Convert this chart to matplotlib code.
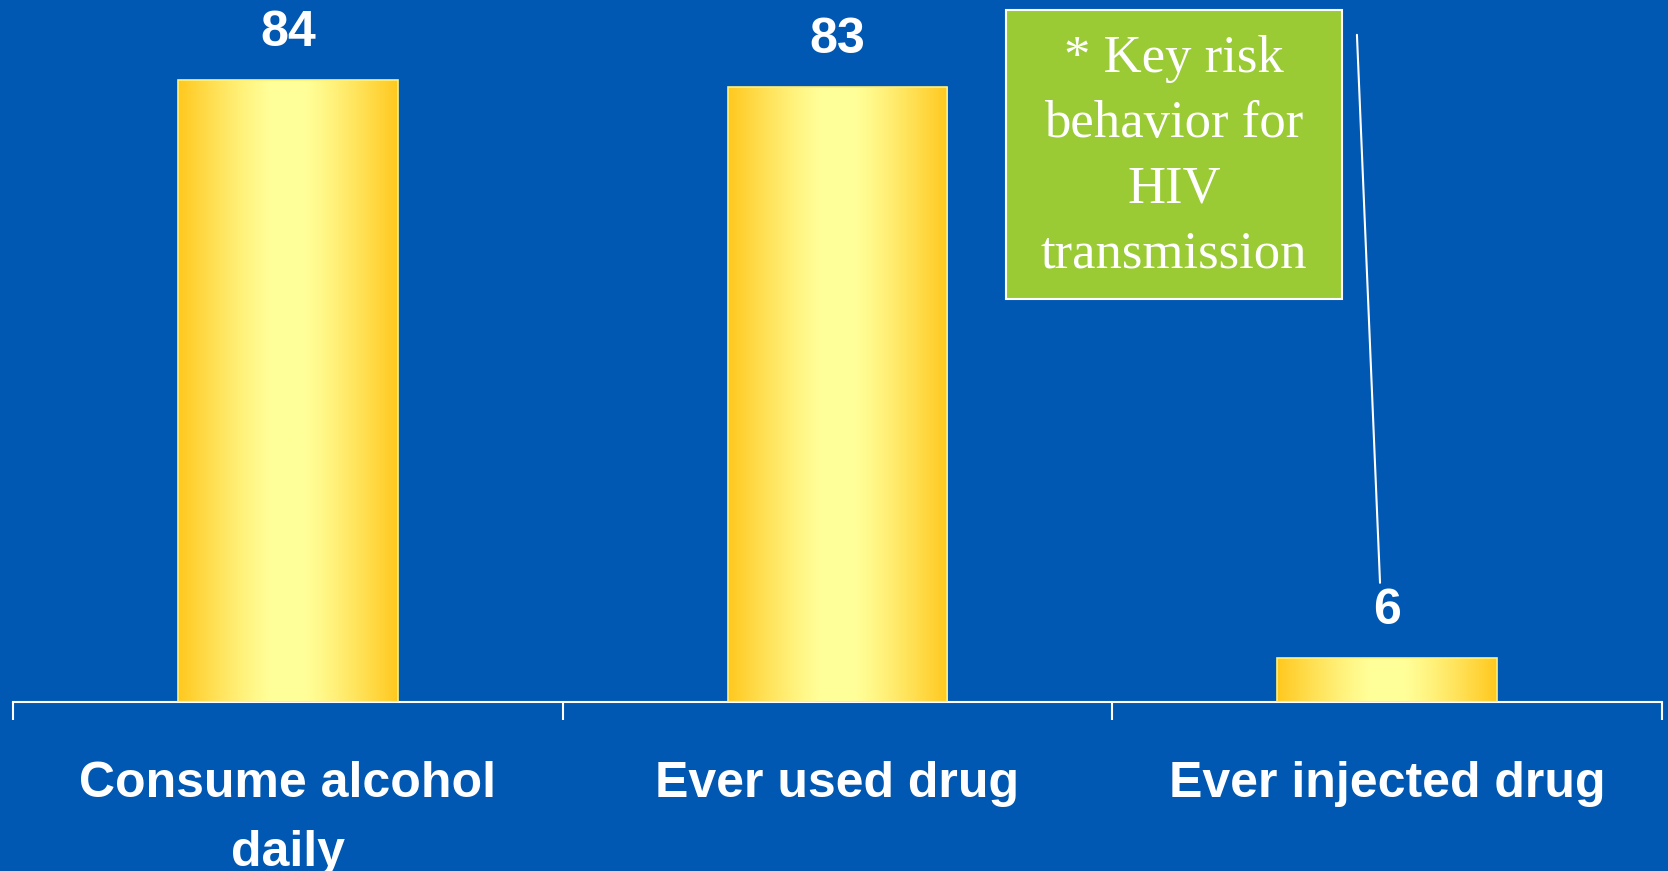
import numpy as np
import matplotlib
matplotlib.use('Agg')
import matplotlib.pyplot as plt
from matplotlib.patches import Rectangle
from matplotlib.colors import to_rgb

# ---- data ----
categories = ["Consume alcohol\ndaily", "Ever used drug", "Ever injected drug"]
values = [84, 83, 6]
value_labels = ["84", "83", "6"]
note_text = "* Key risk\nbehavior for\nHIV\ntransmission"

# ---- style ----
BG = '#0058B2'
GOLD = '#FFC81E'
PALE = '#FFFF99'
GREEN = '#9ACB34'
SANS = 'Liberation Sans'
SERIF = 'Liberation Serif'

W, H, DPI = 1668, 871, 100
fig = plt.figure(figsize=(W / DPI, H / DPI), dpi=DPI, facecolor=BG)
ax = fig.add_axes([13 / W, 1 - 702 / H, (1662 - 13) / W, 702 / H])
ax.set_facecolor(BG)

x = np.arange(len(categories))
bars = ax.bar(x, values, width=0.4, facecolor='none', edgecolor='#FFF07A',
              linewidth=1.2, zorder=3)

# horizontal gradient fill for each bar
u = np.linspace(0, 1, 256)
t = np.clip((np.abs(u - 0.5) * 2 - 0.15) / 0.85, 0, 1) ** 1.2
g = np.array(to_rgb(GOLD))
p = np.array(to_rgb(PALE))
grad = (p[None, :] * (1 - t[:, None]) + g[None, :] * t[:, None])[None, :, :]
for b in bars:
    x0, y0, bw, bh = b.get_x(), b.get_y(), b.get_width(), b.get_height()
    im = ax.imshow(grad, extent=[x0, x0 + bw, y0, y0 + bh], aspect='auto',
                   zorder=2, interpolation='bilinear')
    im.set_clip_path(b)

ax.set_xlim(-0.5, len(categories) - 0.5)
ax.set_ylim(0, 94.8)

# value labels
for b, lbl in zip(bars, value_labels):
    ax.annotate(lbl, (b.get_x() + b.get_width() / 2, b.get_height()),
                xytext=(0, 24.5), textcoords='offset points',
                ha='center', va='baseline', color='white',
                fontsize=36, fontweight='bold', family=SANS, zorder=4)

# axes styling
for s in ['top', 'left', 'right']:
    ax.spines[s].set_visible(False)
ax.spines['bottom'].set_color('white')
ax.spines['bottom'].set_linewidth(1.5)
ax.set_yticks([])
ax.set_xticks(x, categories)
ax.set_xticks(np.arange(-0.5, len(categories), 1.0), minor=True)
ax.tick_params(axis='x', which='major', length=0, pad=42.8)
ax.tick_params(axis='x', which='minor', length=13, width=1.5,
               color='white', direction='out')
for lbl in ax.get_xticklabels():
    lbl.set_color('white')
    lbl.set_fontsize(36)
    lbl.set_fontweight('bold')
    lbl.set_family(SANS)
    lbl.set_linespacing(1.62)

# callout box
fig.add_artist(Rectangle((1006 / W, 1 - 299 / H), 336 / W, 289 / H,
                         transform=fig.transFigure, facecolor=GREEN,
                         edgecolor='white', linewidth=1.5, zorder=5))
fig.text(1174 / W, 1 - 157 / H, note_text, ha='center', va='center',
         family=SERIF, fontsize=38, color='white', linespacing=1.465, zorder=6)

# leader line to the injected-drug value
ax.annotate('', xy=(x[2] - 0.013, values[2] + 10.1),
            xytext=(x[2] - 0.055, 90.1),
            arrowprops=dict(arrowstyle='-', color='white', lw=1.5,
                            shrinkA=0, shrinkB=0))

fig.savefig('out.png', dpi=DPI, facecolor=BG)
